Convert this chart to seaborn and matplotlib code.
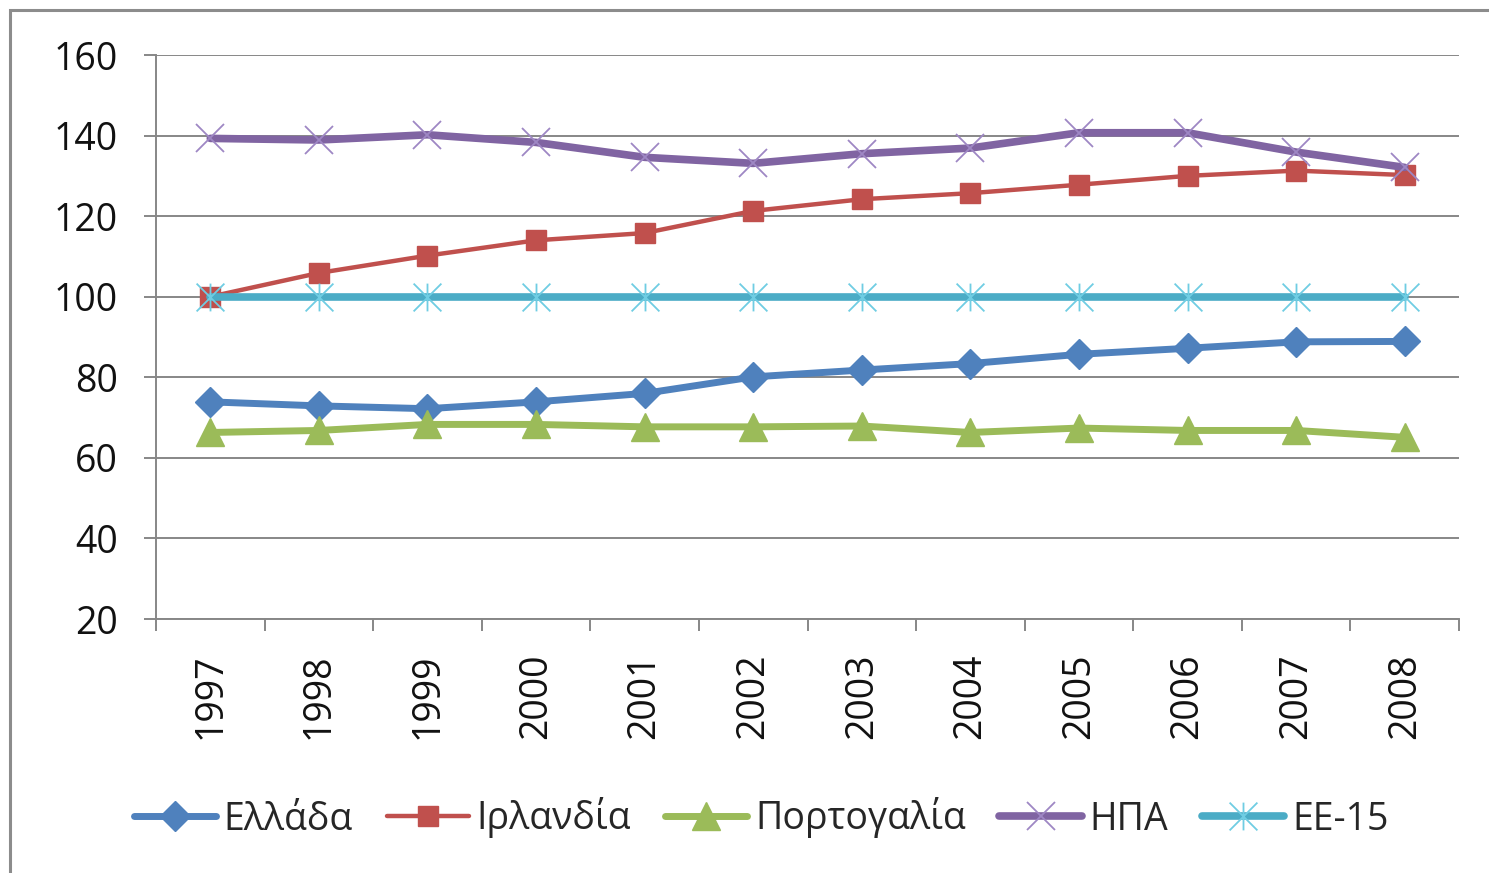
import numpy as np
import pandas as pd
import matplotlib
matplotlib.use("Agg")
import matplotlib.pyplot as plt
import seaborn as sns
from matplotlib.path import Path
from matplotlib.patches import Rectangle

years = [1997, 1998, 1999, 2000, 2001, 2002, 2003, 2004, 2005, 2006, 2007, 2008]
year_labels = [str(y) for y in years]

greece = [73.9, 72.9, 72.2, 73.9, 76.0, 80.1, 81.8, 83.4, 85.7, 87.2, 88.8, 88.9]
ireland = [100.0, 105.9, 110.2, 114.0, 115.8, 121.3, 124.2, 125.7, 127.8, 130.0, 131.3, 130.2]
portugal = [66.3, 66.8, 68.3, 68.3, 67.7, 67.7, 67.9, 66.3, 67.4, 66.8, 66.8, 65.1]
usa = [139.3, 138.9, 140.2, 138.3, 134.6, 133.1, 135.5, 136.9, 140.7, 140.7, 135.9, 132.1]
eu15 = [100, 100, 100, 100, 100, 100, 100, 100, 100, 100, 100, 100]

names = ["Ελλάδα", "Ιρλανδία", "Πορτογαλία", "ΗΠΑ", "ΕΕ-15"]
colors = ["#4F81BD", "#C0504D", "#9BBB59", "#8064A2", "#4BACC6"]

# Excel-style asterisk: X plus vertical bar
star = Path([(0, -1), (0, 1), (-1, -1), (1, 1), (-1, 1), (1, -1)],
            [Path.MOVETO, Path.LINETO, Path.MOVETO, Path.LINETO, Path.MOVETO, Path.LINETO])

styles = [
    dict(marker="D", markersize=15, lw=5.0, mfc="#4F81BD", mec="#4F81BD", mew=1),
    dict(marker="s", markersize=14, lw=3.2, mfc="#C0504D", mec="#C0504D", mew=1),
    dict(marker="^", markersize=20, lw=5.0, mfc="#9BBB59", mec="#9BBB59", mew=1),
    dict(marker="x", markersize=20, lw=5.5, mfc="none", mec="#9E87C4", mew=1.3),
    dict(marker=star, markersize=20, lw=5.5, mfc="none", mec="#6FCDE3", mew=1.3),
]

sns.set_style("white")
plt.rcParams["font.family"] = ["Open Sans", "DejaVu Sans"]
fs = 27

fig = plt.figure(figsize=(14.89, 8.73), dpi=100)
ax = fig.add_axes([156 / 1489, 1 - 619 / 873, (1459 - 156) / 1489, (619 - 55) / 873])

series = [greece, ireland, portugal, usa, eu15]
for name, vals, col, st in zip(names, series, colors, styles):
    df = pd.DataFrame({"year": years, "value": vals})
    sns.lineplot(data=df, x="year", y="value", ax=ax, color=col, label=name,
                 marker=st["marker"], markersize=st["markersize"], linewidth=st["lw"],
                 markerfacecolor=st["mfc"], markeredgecolor=st["mec"],
                 markeredgewidth=st["mew"], solid_capstyle="round", clip_on=False)

grid_col = "#878787"
ax.set_ylim(20, 160)
ax.set_yticks(np.arange(20, 161, 20))
ax.set_xlim(years[0] - 0.5, years[-1] + 0.5)
ax.set_xticks(years)
ax.set_xticklabels(year_labels, rotation=90, va="top", ha="center")
ax.set_xticks(np.arange(years[0] - 0.5, years[-1] + 0.6, 1), minor=True)
ax.set_xlabel("")
ax.set_ylabel("")

ax.yaxis.grid(True, color=grid_col, linewidth=1.4)
ax.set_axisbelow(True)
for s in ["top", "right"]:
    ax.spines[s].set_visible(False)
for s in ["left", "bottom"]:
    ax.spines[s].set_color(grid_col)
    ax.spines[s].set_linewidth(1.4)

ax.tick_params(axis="y", which="major", left=True, length=8.5, width=1.4,
               color=grid_col, pad=19, labelsize=fs, labelcolor="#111111")
ax.tick_params(axis="x", which="major", bottom=False, length=0, pad=25,
               labelsize=fs, labelcolor="#111111")
ax.tick_params(axis="x", which="minor", bottom=True, length=8.5, width=1.4,
               color=grid_col)

ax.get_legend().remove()
handles, labels = ax.get_legend_handles_labels()
fig.legend(handles, labels, loc="center", bbox_to_anchor=(761 / 1489, 1 - 818 / 873),
           ncol=5, frameon=False, fontsize=fs, handlelength=2.2, handletextpad=0.2,
           columnspacing=0.9, numpoints=1)

fig.patches.append(Rectangle((10 / 1489, -0.2), 1.2, 1 - 10 / 873 + 0.2,
                             transform=fig.transFigure, fill=False,
                             edgecolor="#8C8C8C", linewidth=2.2))

fig.savefig("out.png", dpi=100)
